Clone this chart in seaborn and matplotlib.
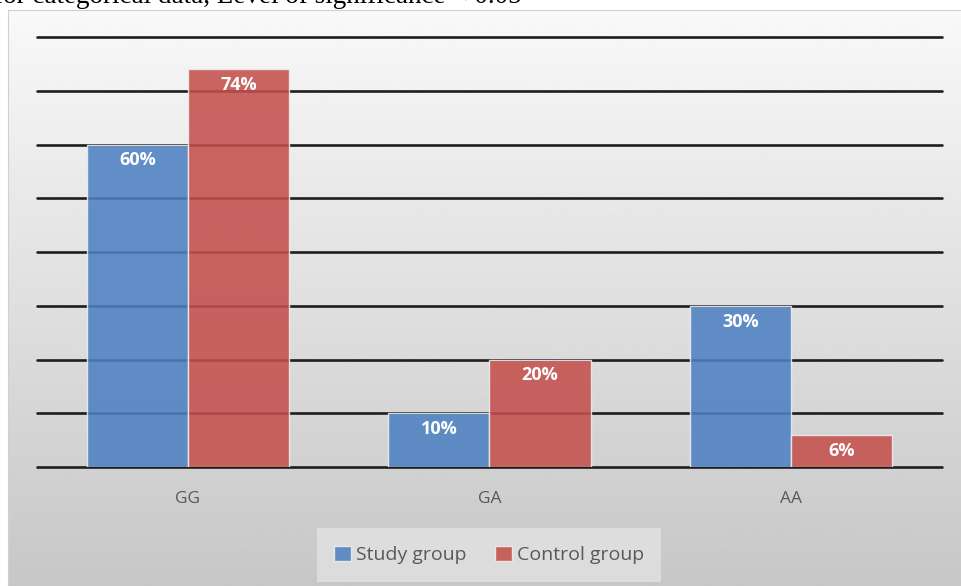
import numpy as np
import pandas as pd
import seaborn as sns
import matplotlib.pyplot as plt

# Genotype distribution per group (%)
genotypes = ['GG', 'GA', 'AA']
study_group = [60, 10, 30]
control_group = [74, 20, 6]
groups = ['Study group', 'Control group']

df = pd.DataFrame({
    'genotype': genotypes * 2,
    'group': [groups[0]] * 3 + [groups[1]] * 3,
    'value': study_group + control_group,
})

sns.set_theme(style='white')
plt.rcParams['font.family'] = ['Open Sans', 'DejaVu Sans']

W, H = 962, 586
fig = plt.figure(figsize=(W / 100, H / 100), dpi=100)
fig.patch.set_facecolor('white')

# gradient panel behind the chart
bg = fig.add_axes([8 / W, 0, 1 - 8 / W, 1 - 10 / H], zorder=-5)
grad = np.linspace(0.975, 0.78, 256).reshape(-1, 1)
grad = np.repeat(grad, 2, axis=1)
bg.imshow(grad, aspect='auto', cmap='gray', vmin=0, vmax=1, extent=[0, 1, 0, 1], origin='upper')
bg.set_xticks([])
bg.set_yticks([])
for s in bg.spines.values():
    s.set_color('#d0d0d0')
    s.set_linewidth(0.8)

# top caption, partly cut off as in the source
fig.text(-0.006, 1 - 3 / H, 'for categorical data, Level of significance < 0.05',
         family='Liberation Serif', fontsize=19.5, color='black', va='baseline', ha='left')

ax = fig.add_axes([37 / W, 1 - 467 / H, 905 / W, 430 / H])
ax.patch.set_alpha(0)

for y in range(0, 90, 10):
    ax.axhline(y, color='#1e1e1e', lw=1.9, zorder=0, clip_on=False)

palette = {'Study group': '#4f81c3', 'Control group': '#c4504d'}
sns.barplot(data=df, x='genotype', y='value', hue='group', palette=palette,
            width=0.67, ax=ax, saturation=1, alpha=0.88, edgecolor='#eeeeee', linewidth=1.0,
            legend=True, zorder=2)

for cont in ax.containers:
    for bar in cont:
        h = bar.get_height()
        ax.annotate(f'{h:.0f}%', (bar.get_x() + bar.get_width() / 2, h),
                    xytext=(0, -11.5), textcoords='offset points', ha='center', va='center',
                    color='white', fontsize=13, fontweight='bold', zorder=5)

ax.set_ylim(0, 80)
ax.set_xlim(-0.5, 2.5)
ax.set_yticks([])
ax.set_xlabel('')
ax.set_ylabel('')
ax.tick_params(axis='x', length=0, pad=17, labelsize=12.5, labelcolor='#595959')
sns.despine(ax=ax, left=True, bottom=True)

handles, labels = ax.get_legend_handles_labels()
ax.get_legend().remove()
leg = fig.legend(handles, labels, loc='center', bbox_to_anchor=(489 / W, 1 - 555 / H), ncol=2,
                 frameon=True, fontsize=14, handlelength=0.85, handleheight=0.85,
                 handletextpad=0.25, columnspacing=1.5, borderpad=0.9, fancybox=False)
leg.get_frame().set_facecolor('#e2e2e2')
leg.get_frame().set_edgecolor('none')
for t in leg.get_texts():
    t.set_color('#595959')

fig.savefig('out.png', dpi=100)
